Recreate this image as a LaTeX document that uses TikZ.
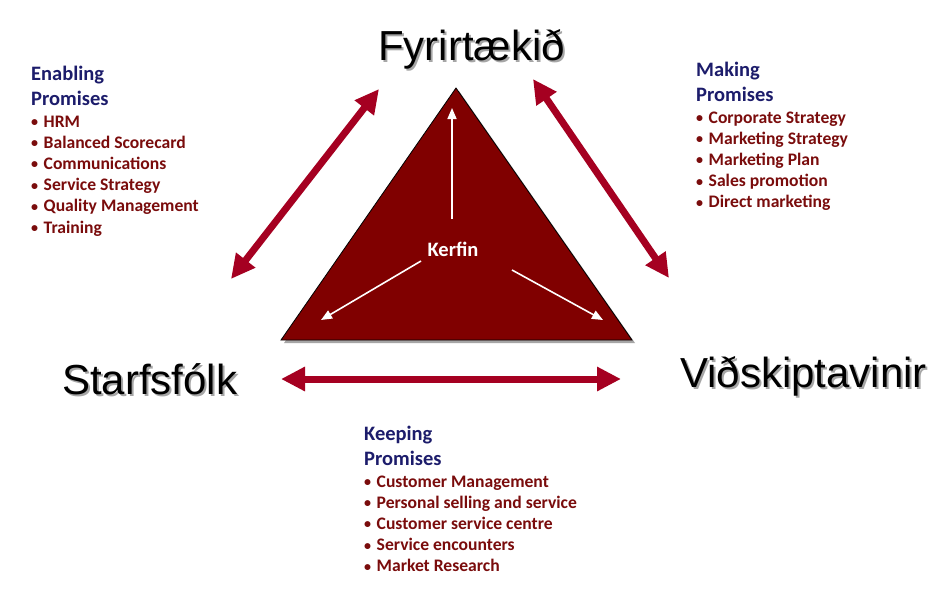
\documentclass[tikz,border=0pt]{standalone}
\usepackage{fontspec}
\setmainfont{Carlito}
\newfontfamily\arialf{Liberation Sans}
\usetikzlibrary{arrows.meta}
\definecolor{trired}{HTML}{800000}
\definecolor{arrred}{HTML}{A50021}
\definecolor{headblue}{HTML}{1C1C6B}
\definecolor{itemred}{HTML}{7A0C0C}
\tikzset{
  head/.style={anchor=base west, inner sep=0pt, text=headblue, font=\bfseries\fontsize{20.5}{22}\selectfont},
  item/.style={anchor=base west, inner sep=0pt, text=itemred, font=\bfseries\fontsize{17.6}{19}\selectfont},
  big/.style={anchor=base west, inner sep=0pt, font=\arialf\fontsize{42}{46}\selectfont},
  dbl/.style={arrred, line width=7pt, {Triangle[length=24pt,width=23pt]}-{Triangle[length=24pt,width=23pt]}},
  inner/.style={white, line width=1.6pt, -{Triangle[length=11pt,width=9pt]}},
}
\newcommand{\bul}[1]{\makebox[12.5pt][l]{\raisebox{0.6pt}{\scalebox{0.8}{•}}}#1}
\newcommand{\shadowtxt}[1]{\rlap{\hspace{2pt}\raisebox{-2pt}{\color{black!35}#1}}#1}
\begin{document}
\begin{tikzpicture}[x=1pt,y=-1pt]
\useasboundingbox (0,0) rectangle (942,589);
\fill[white] (0,0) rectangle (942,589);
% triangle
\coordinate (A) at (456,88);
\coordinate (B) at (281,340);
\coordinate (C) at (632,340);
\fill[black!35] ([shift={(3,3)}]A) -- ([shift={(3,3)}]B) -- ([shift={(3,3)}]C) -- cycle;
\filldraw[fill=trired, draw=black, line width=0.8pt] (A) -- (B) -- (C) -- cycle;
% inner arrows
\node[text=white, font=\bfseries\fontsize{20.5}{22}\selectfont, inner sep=0pt] (kerfin) at (453,249) {Kerfin};
\coordinate (u0) at (452,219); \coordinate (u1) at (452,108);
\coordinate (l0) at (421,261); \coordinate (l1) at (321,320);
\coordinate (r0) at (512,270); \coordinate (r1) at (603,320);
\draw[inner] (u0) -- (u1);
\draw[inner] (l0) -- (l1);
\draw[inner] (r0) -- (r1);
% big labels
\node[big] (fyr) at (378,60) {\shadowtxt{Fyrirtækið}};
\node[big] (sta) at (62,394) {\shadowtxt{Starfsfólk}};
\node[big] (vid) at (680,387) {\shadowtxt{Viðskiptavinir}};
% red double arrows
\coordinate (la0) at (231,279); \coordinate (la1) at (379,89);
\coordinate (ra0) at (533,79); \coordinate (ra1) at (669,278);
\coordinate (ba0) at (281,379); \coordinate (ba1) at (621,379);
\draw[dbl] (la0) -- (la1);
\draw[dbl] (ra0) -- (ra1);
\draw[dbl] (ba0) -- (ba1);
% Enabling
\node[head] (en1) at (31,80) {Enabling};
\node[head] (en2) at (31,105) {Promises};
\foreach \t [count=\i] in {HRM, Balanced Scorecard, Communications, Service Strategy, Quality Management, Training}
  \node[item] (enl\i) at (31,{127+21.2*(\i-1)}) {\bul{\t}};
% Making
\node[head] (ma1) at (696,76) {Making};
\node[head] (ma2) at (696,101) {Promises};
\foreach \t [count=\i] in {Corporate Strategy, Marketing Strategy, Marketing Plan, Sales promotion, Direct marketing}
  \node[item] (mal\i) at (696,{123+21.2*(\i-1)}) {\bul{\t}};
% Keeping
\node[head] (ke1) at (364,440) {Keeping};
\node[head] (ke2) at (364,465) {Promises};
\foreach \t [count=\i] in {Customer Management, Personal selling and service, Customer service centre, Service encounters, Market Research}
  \node[item] (kel\i) at (364,{487+21.2*(\i-1)}) {\bul{\t}};
\end{tikzpicture}
\end{document}
